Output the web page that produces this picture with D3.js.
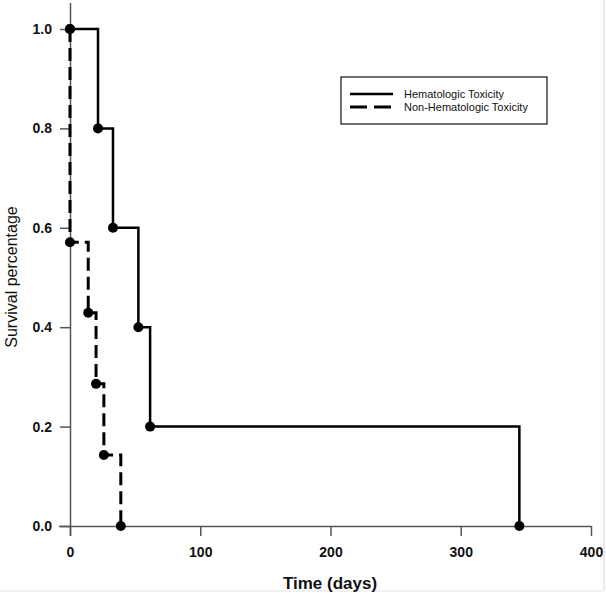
<!DOCTYPE html>
<html>
<head>
<meta charset="utf-8">
<script src="https://cdn.jsdelivr.net/npm/d3@7"></script>
<style>
  body { margin: 0; background: #fff; }
  text { font-family: "Liberation Sans", Arial, sans-serif; }
</style>
</head>
<body>
<div id="chart"></div>
<script>
// Kaplan-Meier data
const hemaTimes = [0, 21.5, 33, 52.5, 61.5, 345];
const hemaSurvival = [1.0, 0.8, 0.6, 0.4, 0.2, 0.0];
const nonHemaTimes = [0, 0, 14, 20, 26, 39];
const nonHemaSurvival = [1.0, 0.571, 0.429, 0.286, 0.143, 0.0];
const xTicks = [0, 100, 200, 300, 400];
const yTicks = [0, 0.2, 0.4, 0.6, 0.8, 1.0];
const legendLabels = ["Hematologic Toxicity", "Non-Hematologic Toxicity"];

const svg = d3.select("#chart")
  .append("svg")
  .attr("width", 606)
  .attr("height", 597);

const xScale = d3.scaleLinear().domain([0, 400]).range([70, 591]);
const yScale = d3.scaleLinear().domain([0, 1]).range([526, 29]);

// faint image border
svg.append("line").attr("x1", 604).attr("x2", 604).attr("y1", 0).attr("y2", 591)
  .attr("stroke", "#e4e4e4").attr("stroke-width", 1.5);
svg.append("line").attr("x1", 0).attr("x2", 604).attr("y1", 591).attr("y2", 591)
  .attr("stroke", "#eeeeee").attr("stroke-width", 1.5);

// axes
const xAxis = d3.axisBottom(xScale).tickValues(xTicks).tickSize(10).tickSizeOuter(0).tickPadding(11);
const yAxis = d3.axisLeft(yScale).tickValues(yTicks).tickSize(10).tickSizeOuter(0)
  .tickPadding(8).tickFormat(d3.format(".1f"));

const gx = svg.append("g")
  .attr("class", "x-axis")
  .attr("transform", "translate(0, 526)")
  .call(xAxis);
gx.select(".domain").attr("d", "M59,0.5H591");

const gy = svg.append("g")
  .attr("class", "y-axis")
  .attr("transform", "translate(70, 0)")
  .call(yAxis);
gy.select(".domain").attr("d", "M0.5,3V536");

svg.selectAll(".domain, .tick line").attr("stroke", "#555").attr("stroke-width", 1.5);
svg.selectAll(".tick text")
  .attr("fill", "#111")
  .style("font-size", "14px")
  .style("font-weight", "bold");

// axis titles
svg.append("text")
  .attr("x", 330)
  .attr("y", 589)
  .attr("text-anchor", "middle")
  .style("font-size", "17px")
  .style("font-weight", "bold")
  .attr("fill", "#111")
  .text("Time (days)");

svg.append("text")
  .attr("transform", "translate(17, 277) rotate(-90)")
  .attr("text-anchor", "middle")
  .style("font-size", "16px")
  .attr("fill", "#111")
  .text("Survival percentage");

// step curves
function toPoints(times, surv) {
  return times.map(function (t, i) { return [t, surv[i]]; });
}
const stepLine = d3.line()
  .x(function (d) { return xScale(d[0]); })
  .y(function (d) { return yScale(d[1]); })
  .curve(d3.curveStepAfter);

const hemaPts = toPoints(hemaTimes, hemaSurvival);
const nonHemaPts = toPoints(nonHemaTimes, nonHemaSurvival);

svg.append("path")
  .datum(nonHemaPts)
  .attr("fill", "none")
  .attr("stroke", "#000")
  .attr("stroke-width", 3)
  .attr("stroke-dasharray", "13,6")
  .attr("d", stepLine);

svg.append("path")
  .datum(hemaPts)
  .attr("fill", "none")
  .attr("stroke", "#000")
  .attr("stroke-width", 2.5)
  .attr("d", stepLine);

svg.selectAll(".dot")
  .data(hemaPts.concat(nonHemaPts))
  .enter()
  .append("circle")
  .attr("cx", function (d) { return xScale(d[0]); })
  .attr("cy", function (d) { return yScale(d[1]); })
  .attr("r", 5)
  .attr("fill", "#000");

// legend
const legend = svg.append("g").attr("transform", "translate(341, 77)");
legend.append("rect")
  .attr("width", 206)
  .attr("height", 47)
  .attr("fill", "#fff")
  .attr("stroke", "#111")
  .attr("stroke-width", 1.2);

legendLabels.forEach(function (label, i) {
  legend.append("line")
    .attr("x1", 9)
    .attr("x2", 52)
    .attr("y1", 17 + i * 13)
    .attr("y2", 17 + i * 13)
    .attr("stroke", "#000")
    .attr("stroke-width", i === 0 ? 2.5 : 3)
    .attr("stroke-dasharray", i === 0 ? null : "17,7");
  legend.append("text")
    .attr("x", 63)
    .attr("y", 21 + i * 13)
    .style("font-size", "11px")
    .attr("fill", "#111")
    .text(label);
});
</script>
</body>
</html>
